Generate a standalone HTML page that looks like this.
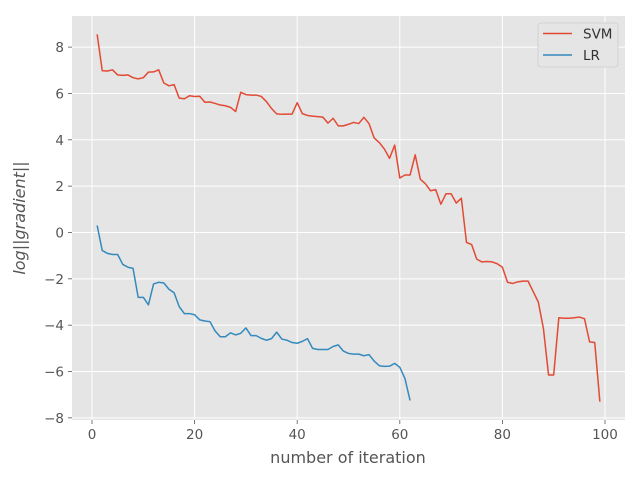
<!DOCTYPE html>
<html><head><meta charset="utf-8"><style>
html,body{margin:0;padding:0;background:#fff;}
svg text{font-family:"DejaVu Sans","Liberation Sans",sans-serif;}
</style></head><body>
<svg id="chart" width="640" height="480" xmlns="http://www.w3.org/2000/svg">
<rect x="0" y="0" width="640" height="480" fill="#fff"/>
<rect x="72" y="16" width="553" height="404" fill="#e5e5e5"/>
<g id="grid"></g>
<g id="xticks"></g>
<g id="yticks"></g>
<g id="series"></g>
<text x="348" y="463" font-size="16" fill="#555" text-anchor="middle">number of iteration</text>
<text transform="translate(25,218) rotate(-90)" font-size="16" fill="#555" text-anchor="middle" font-style="italic">log||gradient||</text>
<g>
<rect x="538" y="23" width="80" height="44" rx="3" fill="#e5e5e5" stroke="#ccc" stroke-width="0.8"/>
<line x1="543" y1="33.5" x2="572" y2="33.5" stroke="#E24A33" stroke-width="1.5"/>
<text x="583" y="38.5" font-size="13.5" fill="#333">SVM</text>
<line x1="543" y1="55" x2="572" y2="55" stroke="#348ABD" stroke-width="1.5"/>
<text x="583" y="60" font-size="13.5" fill="#333">LR</text>
</g>
</svg>
<script>
const xTicks=[0,20,40,60,80,100];
const yTicks=[-8,-6,-4,-2,0,2,4,6,8];
const svmValues=[8.55,6.98,6.97,7.02,6.8,6.78,6.8,6.68,6.63,6.68,6.92,6.93,7.02,6.45,6.33,6.38,5.8,5.77,5.9,5.87,5.88,5.62,5.63,5.57,5.5,5.47,5.4,5.22,6.05,5.95,5.93,5.93,5.87,5.65,5.35,5.12,5.1,5.11,5.11,5.6,5.13,5.05,5.02,5.0,4.98,4.72,4.93,4.6,4.6,4.67,4.75,4.7,4.97,4.7,4.08,3.88,3.6,3.2,3.77,2.35,2.48,2.48,3.35,2.3,2.1,1.8,1.85,1.22,1.67,1.67,1.27,1.48,-0.43,-0.52,-1.15,-1.27,-1.25,-1.27,-1.35,-1.5,-2.15,-2.2,-2.13,-2.1,-2.1,-2.55,-3.0,-4.15,-6.15,-6.15,-3.68,-3.7,-3.7,-3.68,-3.65,-3.72,-4.72,-4.75,-7.3];
const lrValues=[0.3,-0.78,-0.9,-0.95,-0.95,-1.38,-1.5,-1.55,-2.8,-2.8,-3.12,-2.22,-2.15,-2.18,-2.45,-2.6,-3.2,-3.5,-3.5,-3.55,-3.77,-3.82,-3.85,-4.25,-4.5,-4.5,-4.33,-4.42,-4.35,-4.12,-4.45,-4.45,-4.57,-4.65,-4.58,-4.3,-4.6,-4.65,-4.75,-4.78,-4.7,-4.58,-5.0,-5.05,-5.05,-5.05,-4.92,-4.85,-5.12,-5.22,-5.25,-5.25,-5.32,-5.27,-5.55,-5.75,-5.78,-5.77,-5.65,-5.82,-6.3,-7.25];

const NS="http://www.w3.org/2000/svg";
const L=72,R=625,T=16,B=420;
const allN=Math.max(svmValues.length,lrValues.length);
const xmin=1,xmax=allN;
const xpad=(xmax-xmin)*0.05;
const allV=svmValues.concat(lrValues);
const ymin=Math.min(...allV),ymax=Math.max(...allV);
const ypad=(ymax-ymin)*0.05;
function xs(v){return L+(v-(xmin-xpad))/((xmax+xpad)-(xmin-xpad))*(R-L);}
function ys(v){return B-(v-(ymin-ypad))/((ymax+ypad)-(ymin-ypad))*(B-T);}
function mk(tag,attrs,parent){const e=document.createElementNS(NS,tag);for(const k in attrs)e.setAttribute(k,attrs[k]);parent.appendChild(e);return e;}
const grid=document.getElementById('grid'),gx=document.getElementById('xticks'),gy=document.getElementById('yticks'),gs=document.getElementById('series');
xTicks.forEach(t=>{const x=xs(t);
 const g=mk('line',{x1:x,x2:x,y1:T,y2:B,stroke:'#fff','stroke-width':1},grid);
 
 
 const tk=mk('line',{x1:x,x2:x,y1:B,y2:B+4,stroke:'#555','stroke-width':0.8},gx);
 
 
 const tx=mk('text',{x:x,y:B+19,'font-size':13.5,fill:'#555','text-anchor':'middle'},gx);
 tx.textContent=t;
 
 
});
yTicks.forEach(t=>{const y=ys(t);
 const g=mk('line',{x1:L,x2:R,y1:y,y2:y,stroke:'#fff','stroke-width':1},grid);
 
 
 const tk=mk('line',{x1:L-4,x2:L,y1:y,y2:y,stroke:'#555','stroke-width':0.8},gy);
 
 
 const tx=mk('text',{x:L-8,y:y+5,'font-size':13.5,fill:'#555','text-anchor':'end'},gy);
 tx.textContent=(t<0?'\u2212'+(-t):t);
 
 
});
function line(vals,color,name){
 const pts=vals.map((v,i)=>xs(i+1).toFixed(2)+','+ys(v).toFixed(2)).join(' ');
 const p=mk('polyline',{points:pts,fill:'none',stroke:color,'stroke-width':1.5,'stroke-linejoin':'round'},gs);
 
 
}
line(svmValues,'#E24A33','svm-line');
line(lrValues,'#348ABD','lr-line');
</script>
</body></html>
